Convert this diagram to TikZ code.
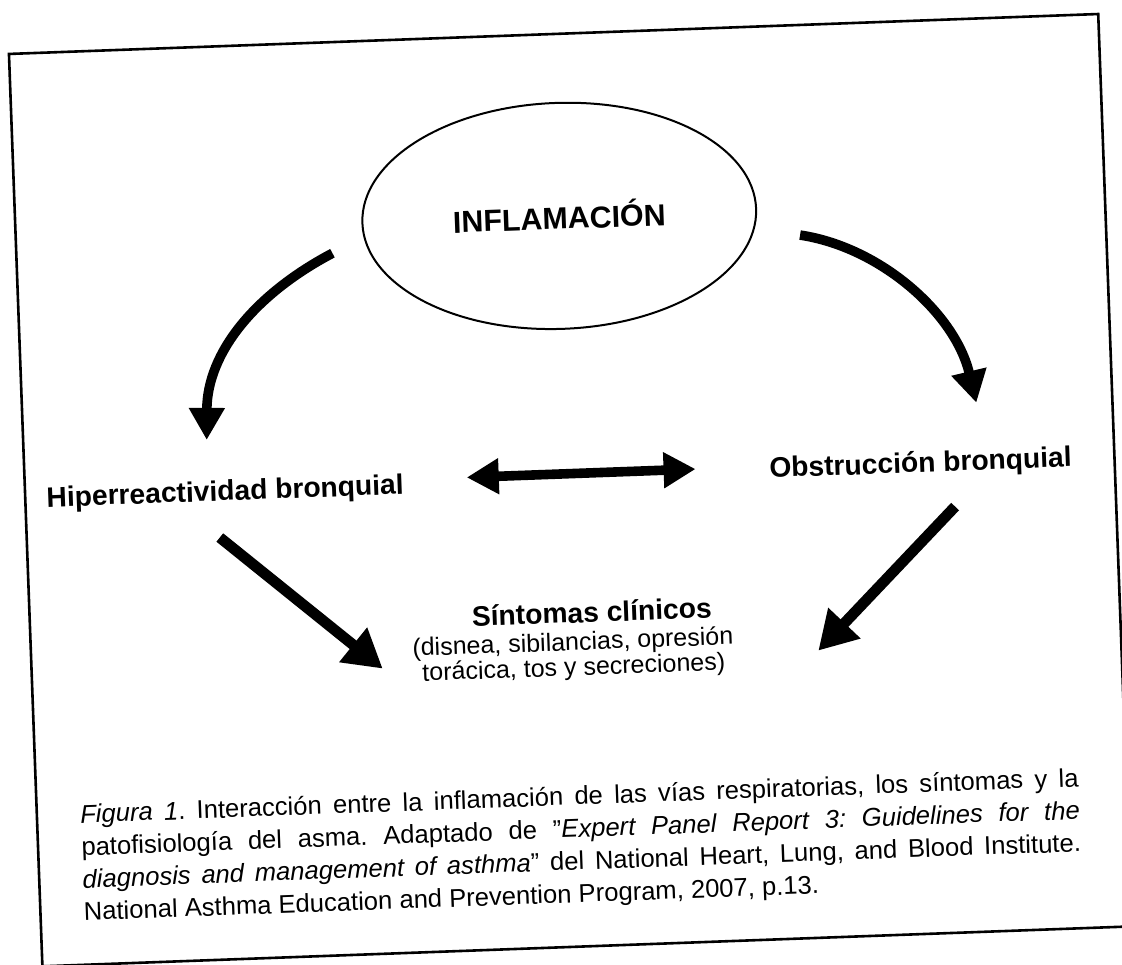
\documentclass[tikz,border=0pt]{standalone}
\usepackage{fontspec}
\setmainfont{Liberation Sans}
\usetikzlibrary{arrows.meta}
\usetikzlibrary{positioning}
\usetikzlibrary{shapes.geometric}

\begin{document}
\begin{tikzpicture}[x=0.5pt, y=-0.5pt,
    every node/.style={transform shape, inner sep=0pt},
    textlabel/.style={font=\fontsize{14.1}{17}\selectfont\bfseries},
    subtext/.style={font=\fontsize{12.5}{12.6}\selectfont, align=center},
    captiontext/.style={font=\fontsize{12.8}{16.25}\selectfont, text width=499.5pt, align=justify},
    bigarrow/.style={line width=4.8pt, -{Triangle[length=16pt, width=17pt]}},
    diagarrow/.style={line width=5.4pt, -{Triangle[length=19pt, width=21pt]}},
    ]
    \useasboundingbox (0,0) rectangle (1122,964);
    \clip (0,0) rectangle (1122,964);
    \fill[white] (0,0) rectangle (1122,964);

    % the scanned page is slightly tilted
    \begin{scope}[rotate around={2.1:(561,482)}]
    \draw[line width=1.3pt] (25,34) rectangle (1115,947);

    \node[draw, ellipse, line width=1pt, minimum width=197pt, minimum height=113pt,
          font=\fontsize{15.2}{18}\selectfont\bfseries] (infl) at (569,216) {INFLAMACIÓN};

    \node[textlabel] (hiper) at (225,481) {Hiperreactividad bronquial};
    \node[textlabel] (obst) at (921,478) {Obstrucción bronquial};
    \node[textlabel] (sint) at (587,613) {Síntomas clínicos};
    \node[subtext, below=4pt of sint, xshift=-10pt] (sintsub)
        {(disnea, sibilancias, opresión\\torácica, tos y secreciones)};

    \coordinate (la1) at (341,245);
    \coordinate (la2) at (208.5,427);
    \coordinate (ra1) at (809,244);
    \coordinate (ra2) at (979,418);
    \coordinate (dd1) at (467,474);
    \coordinate (dd2) at (696,474);
    \coordinate (dl1) at (218,525);
    \coordinate (dl2) at (376,662);
    \coordinate (dr1) at (954,521);
    \coordinate (dr2) at (812,660);

    \draw[bigarrow] (la1) .. controls (262,283) and (212,340) .. (la2);
    \draw[bigarrow] (ra1) .. controls (889,259) and (961,328) .. (ra2);
    \draw[bigarrow, {Triangle[length=16pt, width=17pt]}-{Triangle[length=16pt, width=17pt]}] (dd1) -- (dd2);
    \draw[diagarrow] (dl1) -- (dl2);
    \draw[diagarrow] (dr1) -- (dr2);

    \node[captiontext, anchor=north west] (cap) at (68,786)
        {\frenchspacing\tolerance=9999\hyphenpenalty=10000
        \textit{Figura 1}. Interacción entre la inflamación de las vías respiratorias, los síntomas y la\linebreak
        patofisiología del asma. Adaptado de \symbol{34}\textit{Expert Panel Report 3: Guidelines for the\linebreak
        diagnosis and management of asthma}\symbol{34} del National Heart, Lung, and Blood Institute.\linebreak
        National Asthma Education and Prevention Program, 2007, p.13.};
    \end{scope}
\end{tikzpicture}
\end{document}
